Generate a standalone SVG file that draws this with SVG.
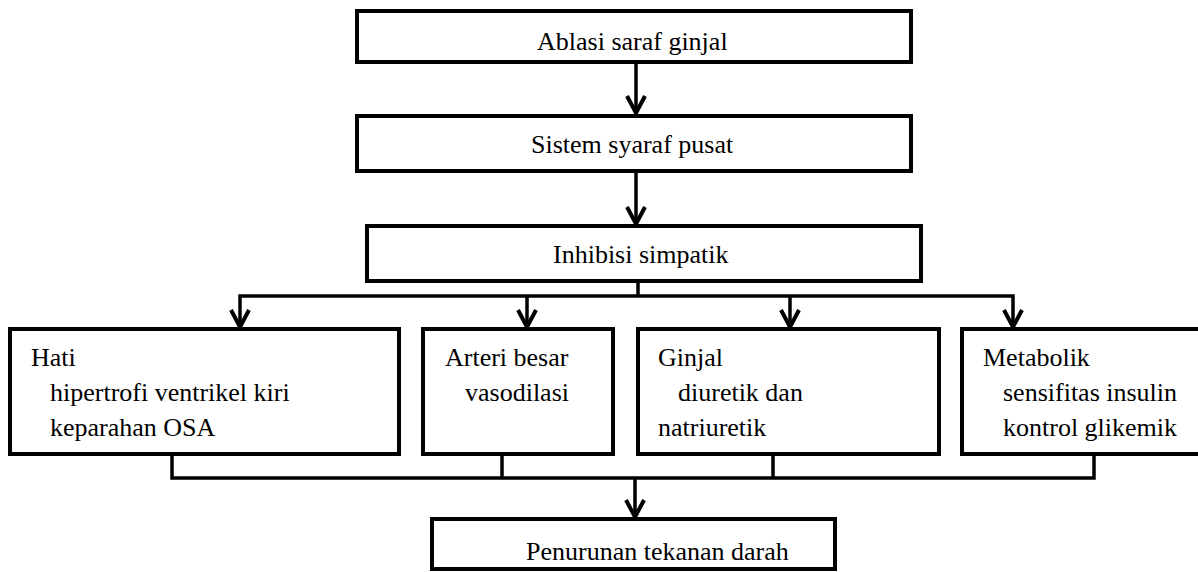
<svg xmlns="http://www.w3.org/2000/svg" width="1198" height="572" viewBox="0 0 1198 572">
<style>
.box{fill:#fff;stroke:#000;stroke-width:4}
.t{font-family:"Liberation Serif","Times New Roman",serif;font-size:26px;fill:#000}
.c{fill:none;stroke:#000;stroke-width:3.5}
.ah{fill:none;stroke:#000;stroke-width:4;stroke-linejoin:miter}
</style>
<rect width="1198" height="572" fill="#fff"/>
<g id="connectors">
<line class="c" x1="636" y1="63" x2="636" y2="112"/>
<polyline class="ah" points="627,96 636,113 645,96"/>
<line class="c" x1="636" y1="173" x2="636" y2="224"/>
<polyline class="ah" points="627,207 636,224 645,207"/>
<line class="c" x1="638" y1="283" x2="638" y2="296"/>
<polyline class="c" points="240,327 240,296 1013,296 1013,327"/>
<line class="c" x1="527" y1="296" x2="527" y2="327"/>
<line class="c" x1="790" y1="296" x2="790" y2="327"/>
<polyline class="ah" points="231,310 240,327 249,310"/>
<polyline class="ah" points="518,310 527,327 536,310"/>
<polyline class="ah" points="781,310 790,327 799,310"/>
<polyline class="ah" points="1004,310 1013,327 1022,310"/>
<polyline class="c" points="172,456 172,478 1094,478 1094,456"/>
<line class="c" x1="502" y1="456" x2="502" y2="478"/>
<line class="c" x1="773" y1="456" x2="773" y2="478"/>
<line class="c" x1="635" y1="478" x2="635" y2="516"/>
<polyline class="ah" points="626,500 635,517 644,500"/>
</g>
<g id="n1"><rect class="box" x="357" y="11" width="554" height="51"/><text class="t" x="537" y="50">Ablasi saraf ginjal</text></g>
<g id="n2"><rect class="box" x="357" y="116" width="554" height="55"/><text class="t" x="531" y="153">Sistem syaraf pusat</text></g>
<g id="n3"><rect class="box" x="367" y="226" width="554" height="55"/><text class="t" x="553" y="263">Inhibisi simpatik</text></g>
<g id="n4"><rect class="box" x="10" y="329" width="389" height="125"/>
<text class="t" x="31" y="366">Hati</text>
<text class="t" x="50" y="401">hipertrofi ventrikel kiri</text>
<text class="t" x="50" y="436">keparahan OSA</text></g>
<g id="n5"><rect class="box" x="423" y="329" width="190" height="125"/>
<text class="t" x="445" y="366">Arteri besar</text>
<text class="t" x="465" y="401">vasodilasi</text></g>
<g id="n6"><rect class="box" x="638" y="329" width="301" height="125"/>
<text class="t" x="658" y="366">Ginjal</text>
<text class="t" x="678" y="401">diuretik dan</text>
<text class="t" x="658" y="436">natriuretik</text></g>
<g id="n7"><rect class="box" x="962" y="329" width="240" height="125"/>
<text class="t" x="983" y="366">Metabolik</text>
<text class="t" x="1003" y="401">sensifitas insulin</text>
<text class="t" x="1003" y="436">kontrol glikemik</text></g>
<g id="n8"><rect class="box" x="432" y="519" width="403" height="50"/><text class="t" x="526" y="560">Penurunan tekanan darah</text></g>
</svg>
